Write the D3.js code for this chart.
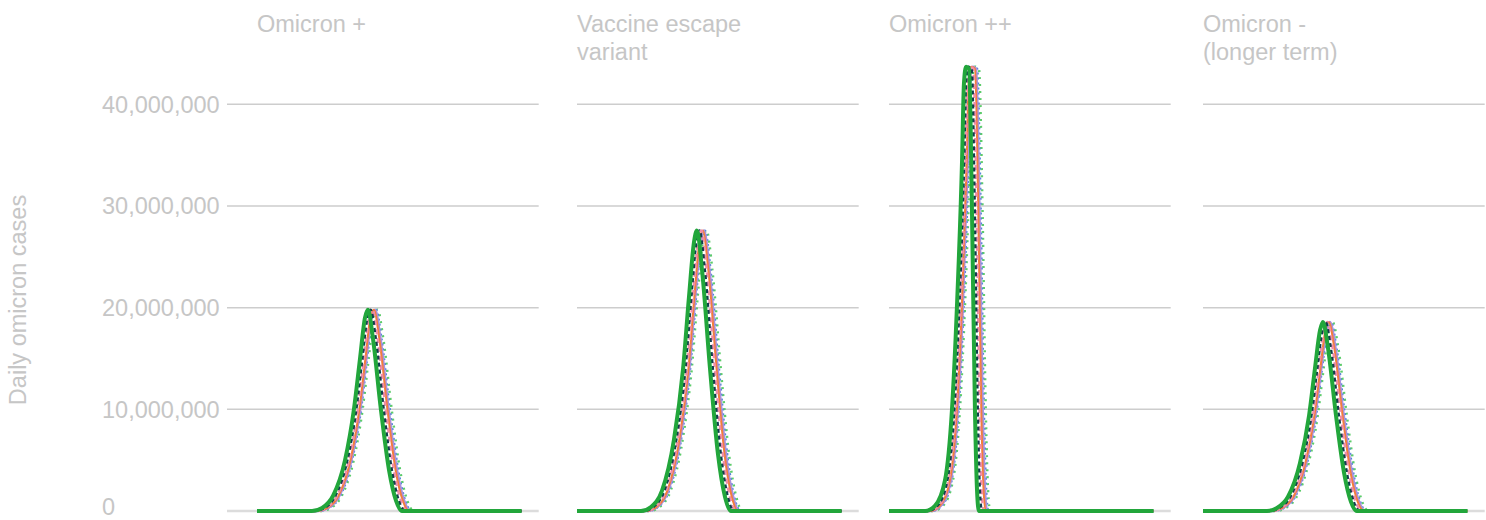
<!DOCTYPE html>
<html>
<head>
<meta charset="utf-8">
<script src="https://cdn.jsdelivr.net/npm/d3@7"></script>
<style>
  body { margin: 0; background: #fff; }
  svg text { font-family: "Liberation Sans", Arial, sans-serif; fill: #c6c6c6; }
</style>
</head>
<body>
<div id="chart"></div>
<script>
// ---- data ----
var panelTitles = [["Omicron +"], ["Vaccine escape", "variant"], ["Omicron ++"], ["Omicron -", "(longer term)"]];
var yTicks = [0, 10000000, 20000000, 30000000, 40000000];
var seriesKeys = ["green", "navy", "pink", "orange", "purple", "blue", "lightGreen"];

// daily cases (millions) each curve passes through, and the day each series reaches it
var omicronPlusLevels = [0, 0, 0.3, 1.5, 5, 10, 15, 19, 19.8, 17, 10, 4, 1, 0, 0];
var omicronPlusDays = [
  [0, 23.5, 27.8, 32.5, 37.6, 41.4, 44.0, 46.1, 47.4, 49.5, 52.9, 56.4, 59.4, 61.9, 113],
  [0, 24.5, 28.8, 33.5, 38.6, 42.4, 45.0, 47.1, 48.5, 50.7, 54.1, 57.6, 60.6, 63.2, 113],
  [0, 25.2, 29.5, 34.2, 39.3, 43.1, 45.7, 47.8, 49.3, 51.5, 55.0, 58.5, 61.5, 64.1, 113],
  [0, 25.8, 30.1, 34.8, 39.9, 43.7, 46.3, 48.4, 49.9, 52.2, 55.7, 59.2, 62.3, 64.9, 113],
  [0, 26.2, 30.5, 35.2, 40.3, 44.1, 46.7, 48.8, 50.4, 52.7, 56.2, 59.8, 62.9, 65.5, 113],
  [0, 26.6, 30.9, 35.6, 40.7, 44.5, 47.1, 49.2, 50.9, 53.2, 56.8, 60.4, 63.4, 66.1, 113],
  [0, 27.2, 31.5, 36.2, 41.3, 45.1, 47.7, 49.8, 51.5, 53.9, 57.5, 61.1, 64.2, 66.9, 113]
];

var escapeLevels = [0, 0, 0.4, 2, 7, 14, 21, 26.5, 27.6, 23.7, 14, 5.6, 1.4, 0, 0];
var escapeDays = [
  [0, 27.3, 31.6, 36.3, 41.4, 45.3, 47.8, 50.0, 51.2, 53.4, 56.8, 60.2, 63.2, 65.7, 113],
  [0, 28.3, 32.6, 37.3, 42.4, 46.3, 48.8, 51.0, 52.3, 54.6, 58.0, 61.4, 64.4, 67.0, 113],
  [0, 29.0, 33.3, 38.0, 43.1, 47.0, 49.5, 51.7, 53.1, 55.4, 58.9, 62.3, 65.3, 67.9, 113],
  [0, 29.6, 33.9, 38.6, 43.7, 47.6, 50.1, 52.3, 53.7, 56.1, 59.6, 63.0, 66.1, 68.7, 113],
  [0, 30.0, 34.3, 39.0, 44.1, 48.0, 50.5, 52.7, 54.2, 56.6, 60.1, 63.6, 66.7, 69.3, 113],
  [0, 30.4, 34.7, 39.4, 44.5, 48.4, 50.9, 53.1, 54.7, 57.1, 60.7, 64.2, 67.2, 69.9, 113],
  [0, 31.0, 35.3, 40.0, 45.1, 49.0, 51.5, 53.7, 55.3, 57.8, 61.4, 64.9, 68.0, 70.7, 113]
];

var omicronPlusPlusLevels = [0, 0, 0.5, 3, 10, 20, 34.5, 42, 43.7, 43.5, 30, 10, 2, 0, 0];
var omicronPlusPlusDays = [
  [0, 15.4, 19.6, 23.9, 26.9, 29.0, 31.2, 32.0, 32.9, 34.2, 35.4, 36.7, 37.6, 38.4, 113],
  [0, 16.4, 20.6, 24.9, 27.9, 30.0, 32.1, 32.9, 33.8, 35.3, 36.6, 37.9, 38.8, 39.7, 113],
  [0, 17.0, 21.2, 25.5, 28.5, 30.6, 32.7, 33.5, 34.5, 36.0, 37.4, 38.7, 39.6, 40.5, 113],
  [0, 17.5, 21.7, 26.0, 29.0, 31.1, 33.2, 34.0, 35.1, 36.7, 38.1, 39.4, 40.4, 41.3, 113],
  [0, 17.9, 22.1, 26.4, 29.4, 31.5, 33.6, 34.4, 35.6, 37.2, 38.6, 40.0, 41.0, 41.9, 113],
  [0, 18.3, 22.5, 26.8, 29.8, 31.9, 34.0, 34.8, 36.1, 37.7, 39.2, 40.6, 41.6, 42.5, 113],
  [0, 18.8, 23.0, 27.3, 30.3, 32.4, 34.5, 35.3, 36.7, 38.4, 39.9, 41.3, 42.3, 43.2, 113]
];

var longerTermLevels = [0, 0, 0.3, 1.4, 4.7, 9.4, 14, 17.8, 18.6, 16, 9.4, 3.8, 0.9, 0, 0];
var longerTermDays = [
  [0, 27.3, 31.6, 36.3, 41.4, 45.3, 47.8, 50.0, 51.2, 53.4, 56.8, 60.2, 63.2, 65.7, 113],
  [0, 28.3, 32.6, 37.3, 42.4, 46.3, 48.8, 51.0, 52.3, 54.6, 58.0, 61.4, 64.4, 67.0, 113],
  [0, 29.0, 33.3, 38.0, 43.1, 47.0, 49.5, 51.7, 53.1, 55.4, 58.9, 62.3, 65.3, 67.9, 113],
  [0, 29.6, 33.9, 38.6, 43.7, 47.6, 50.1, 52.3, 53.7, 56.1, 59.6, 63.0, 66.1, 68.7, 113],
  [0, 30.0, 34.3, 39.0, 44.1, 48.0, 50.5, 52.7, 54.2, 56.6, 60.1, 63.6, 66.7, 69.3, 113],
  [0, 30.4, 34.7, 39.4, 44.5, 48.4, 50.9, 53.1, 54.7, 57.1, 60.7, 64.2, 67.2, 69.9, 113],
  [0, 31.0, 35.3, 40.0, 45.1, 49.0, 51.5, 53.7, 55.3, 57.8, 61.4, 64.9, 68.0, 70.7, 113]
];

var panelLevels = [omicronPlusLevels, escapeLevels, omicronPlusPlusLevels, longerTermLevels];
var panelDays = [omicronPlusDays, escapeDays, omicronPlusPlusDays, longerTermDays];

// ---- styles / layout ----
var seriesStyle = {
  green:      { color: "#22a63b", width: 4,   dash: null },
  navy:       { color: "#123c4e", width: 2.5, dash: "4,3" },
  pink:       { color: "#f08ca6", width: 2.5, dash: "5,4" },
  orange:     { color: "#f47d3b", width: 2,   dash: null },
  purple:     { color: "#a990dc", width: 2.5, dash: null },
  blue:       { color: "#4f86d9", width: 2,   dash: "2,3" },
  lightGreen: { color: "#5dcc6b", width: 2.5, dash: "2,5" }
};
var drawOrder = ["lightGreen", "blue", "purple", "orange", "pink", "navy", "green"];

var svgWidth = 1486, svgHeight = 520;
var panelLeft = [257, 577, 889, 1203];
var panelWidth = 281; // 120 days
var gridWidth = 281.7;

var svg = d3.select("#chart").append("svg")
  .attr("width", svgWidth)
  .attr("height", svgHeight);

var yScale = d3.scaleLinear().domain([0, 40000000]).range([511, 104.3]);

// y axis title
svg.append("text")
  .attr("transform", "translate(26,300) rotate(-90)")
  .attr("text-anchor", "middle")
  .style("font-size", "23.5px")
  .text("Daily omicron cases");

// y tick labels (first panel only)
svg.append("g").selectAll("text")
  .data(yTicks)
  .enter().append("text")
  .attr("x", 102)
  .attr("y", function(d) { return yScale(d); })
  .attr("dy", function(d) { return d === 0 ? "0.15em" : "0.35em"; })
  .style("font-size", "23.5px")
  .text(function(d) { return d3.format(",")(d); });

panelTitles.forEach(function(title, p) {
  var left = panelLeft[p];
  var xScale = d3.scaleLinear().domain([0, 120]).range([left, left + panelWidth]);
  var g = svg.append("g").attr("class", "panel");
  var gridStart = p === 0 ? 227 : left;

  // gridlines
  g.selectAll("line.grid")
    .data(yTicks.slice(1))
    .enter().append("line")
    .attr("class", "grid")
    .attr("x1", gridStart)
    .attr("x2", left + gridWidth)
    .attr("y1", function(d) { return yScale(d); })
    .attr("y2", function(d) { return yScale(d); })
    .attr("stroke", "#cdcdcd")
    .attr("stroke-width", 1.5);

  // baseline
  g.append("line")
    .attr("x1", gridStart)
    .attr("x2", left + gridWidth)
    .attr("y1", yScale(0))
    .attr("y2", yScale(0))
    .attr("stroke", "#dcdcdc")
    .attr("stroke-width", 2.5);

  // title
  g.append("text")
    .attr("x", left)
    .attr("y", 32)
    .style("font-size", "23.5px")
    .selectAll("tspan")
    .data(title)
    .enter().append("tspan")
    .attr("x", left)
    .attr("dy", function(d, i) { return i === 0 ? 0 : 28; })
    .text(function(d) { return d; });

  var line = d3.line()
    .x(function(d) { return xScale(d.day); })
    .y(function(d) { return yScale(d.cases); })
    .curve(d3.curveMonotoneX);

  var levels = panelLevels[p];
  var series = panelDays[p].map(function(days, s) {
    return {
      key: seriesKeys[s],
      points: days.map(function(day, i) { return { day: day, cases: levels[i] * 1000000 }; })
    };
  });
  series.sort(function(a, b) { return drawOrder.indexOf(a.key) - drawOrder.indexOf(b.key); });

  g.selectAll("path.series")
    .data(series)
    .enter().append("path")
    .attr("class", "series")
    .attr("d", function(d) { return line(d.points); })
    .attr("fill", "none")
    .attr("stroke", function(d) { return seriesStyle[d.key].color; })
    .attr("stroke-width", function(d) { return seriesStyle[d.key].width; })
    .attr("stroke-dasharray", function(d) { return seriesStyle[d.key].dash; })
    .attr("stroke-linejoin", "round");
});
</script>
</body>
</html>
